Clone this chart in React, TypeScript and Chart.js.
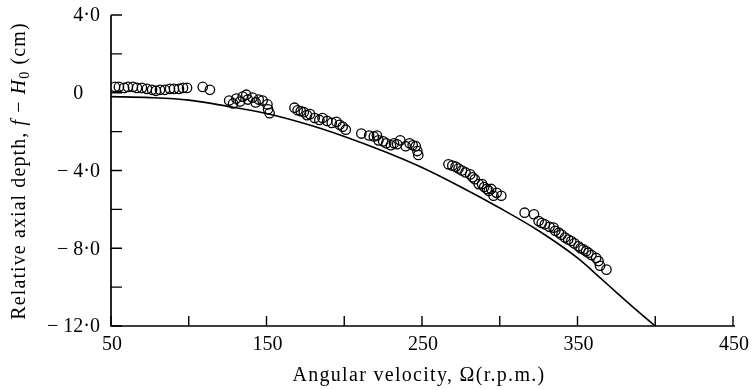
import React, { useEffect, useRef } from "react";
import { Chart, registerables } from "chart.js";
Chart.register(...registerables);

// Theoretical curve
const curveOmega = [50, 75, 100, 125, 150, 175, 200, 225, 250, 275, 300, 325, 350, 365, 375, 387, 400];
const curveDepth = [-0.2, -0.25, -0.38, -0.7, -1.07, -1.6, -2.25, -3.0, -3.85, -4.85, -5.93, -7.1, -8.5, -9.55, -10.27, -11.12, -12.0];

// Measured points
const obsOmega = [
  52.6, 55.1, 58.4, 60.9, 64.1, 66.7, 69.9, 73.1, 76.4, 78.9, 81.5, 84.7, 87.9, 90.5, 93.7, 96.3, 98.9,
  109, 113.6,
  126, 128.5, 130.6, 133, 134.7, 137, 138, 141, 143, 145, 147.5, 150.6, 151, 152,
  168, 170, 172, 174, 176, 178, 181, 184, 186, 189, 192, 195, 197, 199, 201,
  211, 216, 219, 221, 222, 225, 227, 230, 232, 234, 236, 239.5, 242, 244, 246, 247, 247.6,
  267, 269.5, 271.6, 273.5, 275.7, 278, 281, 282.5, 284, 286.5, 288.6, 290, 291.7, 293, 294.5, 296, 298, 301,
  316, 322, 325, 327, 329, 332, 334.6, 335.7, 338, 339.7, 342, 344, 346, 348, 350.6, 352, 353.8, 355.5, 357, 359, 362, 363.5, 364.5, 368.6,
];
const obsDepth = [
  0.3, 0.3, 0.25, 0.3, 0.3, 0.25, 0.25, 0.2, 0.15, 0.1, 0.15, 0.15, 0.2, 0.2, 0.2, 0.25, 0.25,
  0.3, 0.15,
  -0.4, -0.55, -0.3, -0.45, -0.2, -0.1, -0.35, -0.25, -0.5, -0.35, -0.4, -0.6, -0.85, -1.05,
  -0.77, -0.9, -0.95, -1.0, -1.15, -1.1, -1.3, -1.4, -1.3, -1.45, -1.55, -1.5, -1.65, -1.75, -1.9,
  -2.1, -2.2, -2.25, -2.2, -2.45, -2.5, -2.6, -2.7, -2.6, -2.65, -2.45, -2.75, -2.6, -2.7, -2.75, -3.0, -3.2,
  -3.68, -3.75, -3.8, -3.9, -4.0, -4.1, -4.2, -4.35, -4.45, -4.7, -4.7, -4.85, -4.95, -5.05, -4.95, -5.3, -5.15, -5.3,
  -6.17, -6.25, -6.6, -6.7, -6.77, -6.9, -6.94, -7.1, -7.2, -7.3, -7.45, -7.55, -7.63, -7.75, -7.9, -8.0, -8.06, -8.15, -8.23, -8.35, -8.5, -8.66, -8.9, -9.1,
];

const xLabelTicks = [50, 150, 250, 350, 450];
const yLabelTicks = [4, 0, -4, -8, -12];
const xTitle = "Angular velocity, Ω(r.p.m.)";
const yTitleParts: [string, string][] = [
  ["Relative axial depth, ", "n"],
  ["f", "i"],
  [" − ", "n"],
  ["H", "i"],
  ["0", "s"],
  [" (cm)", "n"],
];

const SERIF = "'Times New Roman', 'Liberation Serif', Times, serif";

const fmtY = (v: number) =>
  v === 0 ? "0" : (v < 0 ? "− " : "") + Math.abs(v).toFixed(1).replace(".", "·");

const paperAxes = {
  id: "paperAxes",
  afterDraw(chart: any) {
    const { ctx, chartArea: a } = chart;
    const x = chart.scales.x;
    const y = chart.scales.y;
    ctx.save();
    ctx.strokeStyle = "#000";
    ctx.fillStyle = "#000";
    ctx.lineWidth = 1.7;
    ctx.beginPath();
    ctx.moveTo(a.left, a.top);
    ctx.lineTo(a.left, a.bottom);
    ctx.lineTo(a.right + 2, a.bottom);
    ctx.stroke();

    ctx.lineWidth = 1.4;
    ctx.beginPath();
    x.ticks.forEach((t: any) => {
      const px = x.getPixelForValue(t.value);
      ctx.moveTo(px, a.bottom);
      ctx.lineTo(px, a.bottom - 10);
    });
    y.ticks.forEach((t: any) => {
      const py = y.getPixelForValue(t.value);
      ctx.moveTo(a.left, py);
      ctx.lineTo(a.left + 11, py);
    });
    ctx.stroke();

    ctx.font = `20px ${SERIF}`;
    ctx.textBaseline = "middle";
    ctx.textAlign = "center";
    xLabelTicks.forEach((v) => {
      ctx.fillText(String(v), x.getPixelForValue(v) + 1, a.bottom + 19);
    });
    ctx.textAlign = "right";
    const dotZeroW = ctx.measureText("·0").width;
    yLabelTicks.forEach((v) => {
      const py = y.getPixelForValue(v) + 1;
      const rx = a.left - 11 - (v === 0 ? dotZeroW : 0);
      ctx.fillText(fmtY(v), rx, py);
    });

    // x title
    ctx.font = `20px ${SERIF}`;
    (ctx as any).letterSpacing = "1.3px";
    ctx.textAlign = "center";
    ctx.textBaseline = "alphabetic";
    ctx.fillText(xTitle, (a.left + a.right) / 2 - 3, 381);

    // y title
    const fonts: Record<string, string> = {
      n: `20px ${SERIF}`,
      i: `italic 20px ${SERIF}`,
      s: `14px ${SERIF}`,
    };
    (ctx as any).letterSpacing = "1.1px";
    ctx.textAlign = "left";
    let total = 0;
    const widths = yTitleParts.map(([t, k]) => {
      ctx.font = fonts[k];
      const w = ctx.measureText(t).width;
      total += w;
      return w;
    });
    ctx.translate(25, 171);
    ctx.rotate(-Math.PI / 2);
    let cx = -total / 2;
    yTitleParts.forEach(([t, k], i) => {
      ctx.font = fonts[k];
      ctx.fillText(t, cx, k === "s" ? 4 : 0);
      cx += widths[i];
    });
    ctx.restore();
  },
};

export default function App() {
  const ref = useRef<HTMLCanvasElement | null>(null);
  useEffect(() => {
    if (!ref.current) return;
    const chart = new Chart(ref.current, {
      type: "scatter",
      data: {
        datasets: [
          {
            type: "line",
            label: "theory",
            data: curveOmega.map((o, i) => ({ x: o, y: curveDepth[i] })),
            borderColor: "#000",
            borderWidth: 1.6,
            pointRadius: 0,
            fill: false,
            cubicInterpolationMode: "monotone",
          } as any,
          {
            label: "measured",
            data: obsOmega.map((o, i) => ({ x: o, y: obsDepth[i] })),
            pointStyle: "circle",
            pointRadius: 4.7,
            pointBorderWidth: 1.3,
            borderColor: "#000",
            backgroundColor: "rgba(0,0,0,0)",
          } as any,
        ],
      },
      options: {
        animation: false,
        responsive: false,
        devicePixelRatio: 1,
        layout: { padding: { top: 15, right: 19, left: 0, bottom: 0 } },
        plugins: { legend: { display: false }, tooltip: { enabled: false } },
        scales: {
          x: {
            type: "linear",
            min: 50,
            max: 450,
            ticks: { display: false, stepSize: 50 },
            grid: { display: false },
            border: { display: false },
            afterFit: (s: any) => {
              s.height = 64;
            },
          },
          y: {
            type: "linear",
            min: -12,
            max: 4,
            ticks: { display: false, stepSize: 2 },
            grid: { display: false },
            border: { display: false },
            afterFit: (s: any) => {
              s.width = 111;
            },
          },
        },
      },
      plugins: [paperAxes],
    } as any);
    return () => chart.destroy();
  }, []);
  return (
    <div style={{ position: "absolute", left: 0, top: 0, width: 752, height: 390, background: "#fff" }}>
      <canvas ref={ref} width={752} height={390} style={{ display: "block" }} />
    </div>
  );
}
